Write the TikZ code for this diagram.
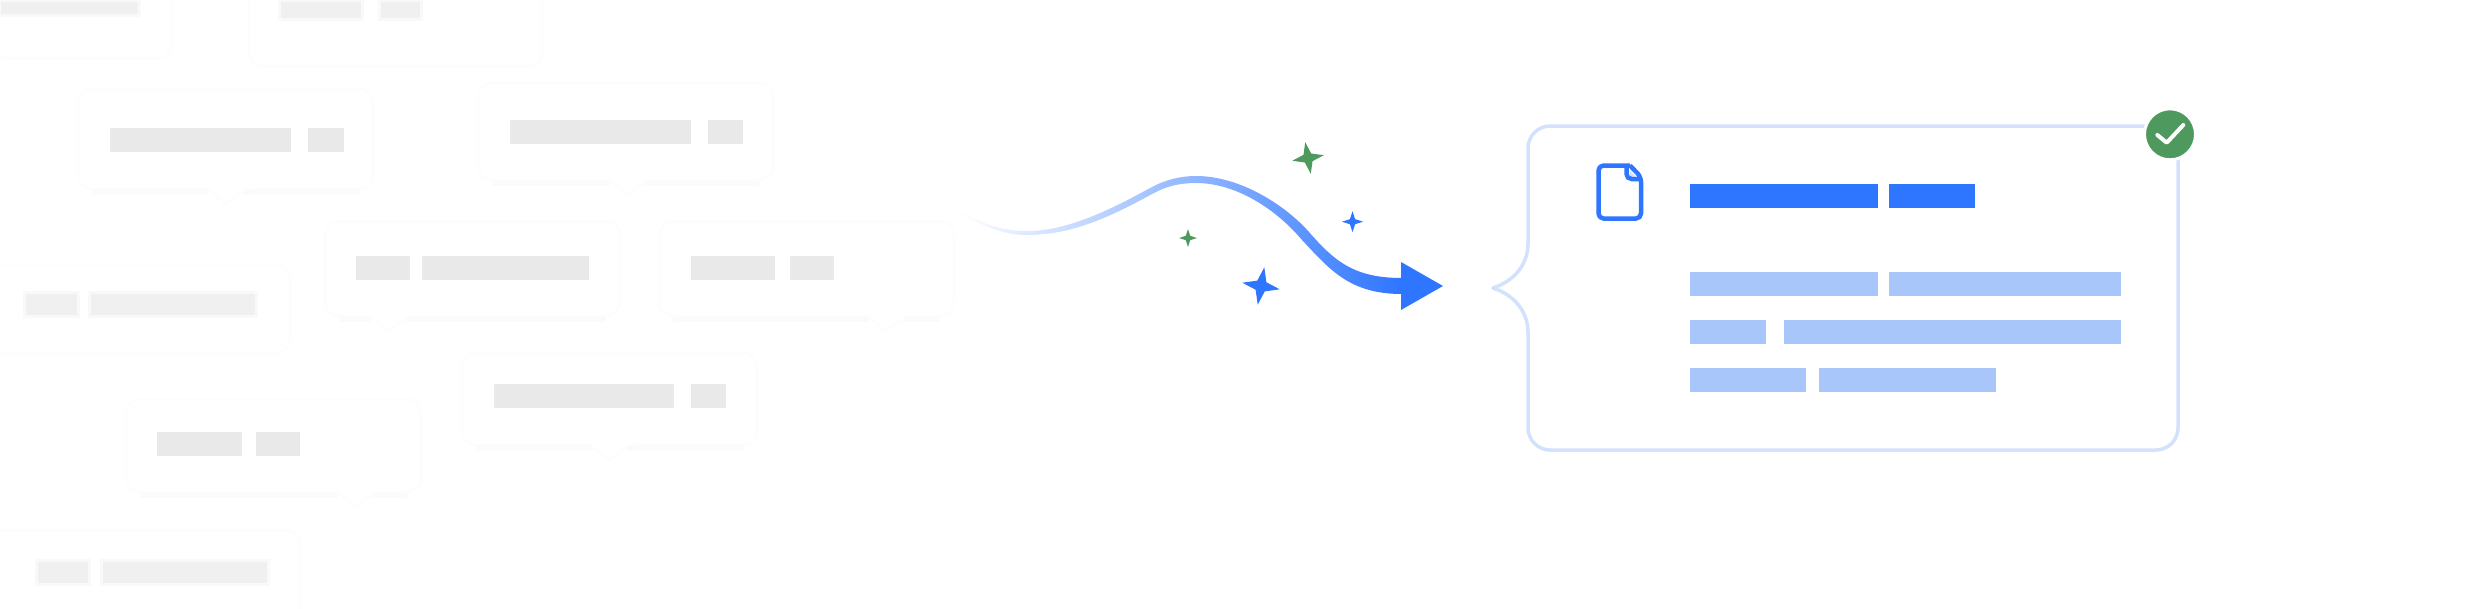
\documentclass[tikz,border=0pt]{standalone}
\usetikzlibrary{positioning,shapes.geometric}
\definecolor{flowblue}{HTML}{2E75FF}
\definecolor{paleblue}{HTML}{A9C6FB}
\definecolor{edgeblue}{HTML}{D3E2FC}
\definecolor{okgreen}{HTML}{4E9A5E}
\definecolor{bargray}{HTML}{E9E9E9}
\definecolor{softgray}{HTML}{F0F0F0}
\definecolor{softhalo}{HTML}{F9F9F9}
\definecolor{cardgray}{HTML}{FDFDFD}
\definecolor{cardshade}{HTML}{FBFBFB}

\begin{document}
\begin{tikzpicture}[
	x=1pt,y=-1pt,
	node distance=11pt,
	bar/.style={rectangle,inner sep=0pt,outer sep=0pt,minimum height=24pt,fill=bargray},
	softbar/.style={bar,fill=softgray,draw=softhalo,line width=3pt},
	mainbar/.style={bar,fill=flowblue},
	textbar/.style={bar,fill=paleblue},
	card/.style={draw=cardgray,line width=2.5pt,line join=round},
	cardfoot/.style={draw=cardshade,line width=6pt},
	sparkle/.style={star,star points=4,star point ratio=2.9,inner sep=0pt,outer sep=0pt}
	]
	\useasboundingbox (0,0) rectangle (2480,608);

	% Bolle sfumate
	\foreach \cx/\cy/\ch/\tx in {78/89/100/226,478/83/97/628,325/221/95/389,659/221/95/886,462/353/92/609,126/399/93/356}{
		\draw[card,rounded corners=14pt] (\cx,\cy+40) -- (\cx,\cy) -- (\cx+295,\cy) -- (\cx+295,\cy+\ch) -- (\tx+18,\cy+\ch)
			[sharp corners] -- (\tx,\cy+\ch+15) -- (\tx-18,\cy+\ch) [rounded corners=14pt] -- (\cx,\cy+\ch) -- cycle;
		\draw[cardfoot] (\cx+14,\cy+\ch+3) -- (\tx-18,\cy+\ch+3);
		\draw[cardfoot] (\tx+18,\cy+\ch+3) -- (\cx+281,\cy+\ch+3);
	}
	\draw[card,rounded corners=14pt] (-10,264) -- (290,264) -- (290,353) -- (-10,353);
	\draw[card,rounded corners=14pt] (-10,530) -- (300,530) -- (300,618);
	\draw[card,rounded corners=14pt] (-10,-10) -- (-10,58) -- (172,58) -- (172,-10);
	\draw[card,rounded corners=14pt] (249,-10) -- (249,66) -- (542,66) -- (542,-10);

	% Barre grigie
	\node[bar,minimum width=181pt,anchor=north west] (a1) at (110,128) {};
	\node[bar,minimum width=36pt,right=17pt of a1] (a2) {};
	\node[bar,minimum width=181pt,anchor=north west] (b1) at (510,120) {};
	\node[bar,minimum width=35pt,right=17pt of b1] (b2) {};
	\node[bar,minimum width=54pt,anchor=north west] (c1) at (356,256) {};
	\node[bar,minimum width=167pt,right=12pt of c1] (c2) {};
	\node[bar,minimum width=84pt,anchor=north west] (d1) at (691,256) {};
	\node[bar,minimum width=44pt,right=15pt of d1] (d2) {};
	\node[bar,minimum width=180pt,anchor=north west] (e1) at (494,384) {};
	\node[bar,minimum width=35pt,right=17pt of e1] (e2) {};
	\node[bar,minimum width=85pt,anchor=north west] (f1) at (157,432) {};
	\node[bar,minimum width=44pt,right=14pt of f1] (f2) {};

	% Barre sfocate ai bordi
	\node[softbar,minimum width=54pt,anchor=north west] (g1) at (24,292) {};
	\node[softbar,minimum width=167pt,right=11pt of g1] (g2) {};
	\node[softbar,minimum width=53pt,anchor=north west] (h1) at (36,560) {};
	\node[softbar,minimum width=167pt,right=12pt of h1] (h2) {};
	\node[softbar,minimum width=140pt,minimum height=15pt,anchor=north west] (t1) at (-1,0) {};
	\node[softbar,minimum width=83pt,minimum height=19pt,anchor=north west] (t2) at (279,0) {};
	\node[softbar,minimum width=42pt,minimum height=19pt,right=17pt of t2] (t3) {};

	% Freccia
	\shade[left color=white,middle color=flowblue!58,right color=flowblue]
		(957,209) .. controls (985,226) and (1005,231) .. (1027,231) .. controls (1070,231) and (1115,207) .. (1152,187)
		.. controls (1165,180) and (1180,176) .. (1196,176) .. controls (1240,176) and (1285,205) .. (1309,232)
		.. controls (1335,262) and (1355,278) .. (1402,278) -- (1402,294)
		.. controls (1350,294) and (1330,270) .. (1302,240) .. controls (1275,208) and (1235,183) .. (1196,183)
		.. controls (1180,183) and (1167,186) .. (1154,193) .. controls (1115,214) and (1075,235) .. (1027,235)
		.. controls (1005,235) and (985,228) .. (957,211) -- cycle;
	\fill[flowblue] (1401,262) -- (1443,286) -- (1401,310) -- cycle;

	% Stelline
	\node[sparkle,fill=flowblue,minimum size=38pt,rotate=-10] (spark1) at (1261,286) {};
	\node[sparkle,fill=okgreen,minimum size=32pt,rotate=10] (spark2) at (1308,158) {};
	\node[sparkle,fill=flowblue,minimum size=21pt] (spark3) at (1352.5,221.7) {};
	\node[sparkle,fill=okgreen,minimum size=18pt] (spark4) at (1188,238) {};

	% Scheda a destra
	\draw[draw=edgeblue,line width=3.5pt,line join=round] (1550,126) .. controls (1538,126) and (1528,136) .. (1528,148) -- (1528,243)
		.. controls (1528,265) and (1514,281) .. (1493,288) .. controls (1514,295) and (1528,311) .. (1528,333)
		-- (1528,428) .. controls (1528,440) and (1538,450) .. (1550,450) -- (2156,450) .. controls (2168,450) and (2178,440) .. (2178,428)
		-- (2178,148) -- (2178,126) -- cycle;

	% Icona documento
	\draw[draw=flowblue,line width=4.5pt,line join=round,rounded corners=5pt] (1630,165.5) -- (1598.5,165.5) -- (1598.5,218.5) -- (1641,218.5) -- (1641,177) [sharp corners] -- (1630,165.5);
	\fill[edgeblue] (1630,171) -- (1637,178) -- (1630,178) -- cycle;
	\draw[draw=flowblue,line width=4.5pt,rounded corners=5pt] (1626.5,166) -- (1626.5,179) -- (1641,179);

	% Barre blu
	\node[mainbar,minimum width=188pt,anchor=north west] (title1) at (1690,184) {};
	\node[mainbar,minimum width=86pt,right=of title1] (title2) {};
	\node[textbar,minimum width=188pt,anchor=north west] (row1a) at (1690,272) {};
	\node[textbar,minimum width=232pt,right=of row1a] (row1b) {};
	\node[textbar,minimum width=76pt,anchor=north west] (row2a) at (1690,320) {};
	\node[textbar,minimum width=337pt,right=18pt of row2a] (row2b) {};
	\node[textbar,minimum width=116pt,anchor=north west] (row3a) at (1690,368) {};
	\node[textbar,minimum width=177pt,right=13pt of row3a] (row3b) {};

	% Spunta
	\node[circle,fill=okgreen,draw=white,line width=3pt,minimum size=51pt,inner sep=0pt] (okmark) at (2170,134.3) {};
	\draw[white,line width=4pt,line join=round,line cap=round] (2157.3,135) -- (2166.7,142.7) -- (2183.3,125);
\end{tikzpicture}
\end{document}
